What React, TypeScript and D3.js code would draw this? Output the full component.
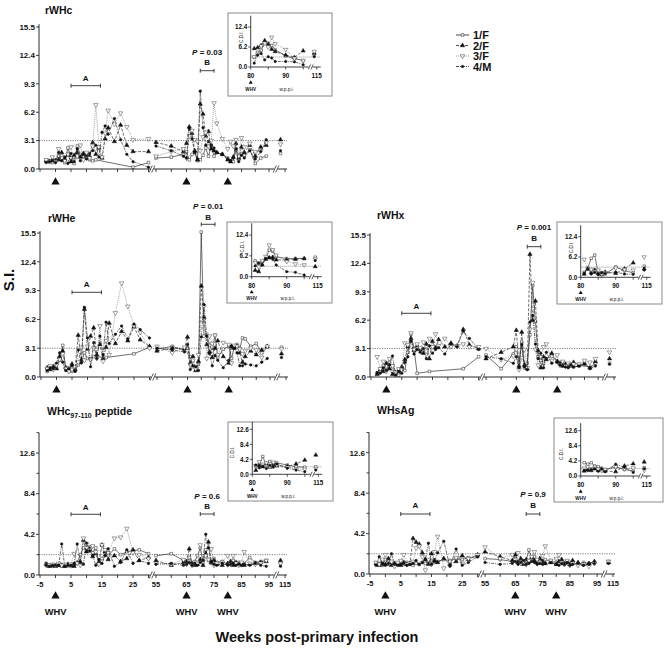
import { useEffect, useRef } from 'react';
import * as d3 from 'd3';

// sampling weeks (post-primary infection)
const WEEKS_EARLY = [-3, -2, -1, 0, 1, 2, 3, 4, 5, 6, 7, 8, 9, 10, 11, 12, 13, 14, 15, 16, 17, 19, 21, 23, 25, 27, 30];
const WEEKS_LATE = [55, 60, 64, 65, 66, 67, 68, 69, 70, 71, 72, 73, 74, 75, 76, 78, 80, 81, 82, 83, 84, 85, 86, 88, 90, 92, 94];
const WEEKS_END = [113.5];
const INSET_WEEKS = [81, 82, 83, 84, 85, 86, 87, 90, 92.5, 95];
const INSET_END = [114];
const WHV_WEEKS = [0, 65, 80];
const ANIMALS = ['1/F', '2/F', '3/F', '4/M'];

// S.I. values: early weeks / late weeks / last point after the break
const RWHC_1 = [0.8, 0.9, 0.7, 1.0, 1.4, 1.0, 0.7, 2.3, 1.2, 0.6, 2.5, 1.6, 1.4, 1.2, 1.0, 0.9, 1.0, null, null, null, null, null, null, null, 0.2, null, 0.7,
  1.2, 1.3, 1.6, 1.9, 1.0, 1.6, 1.8, 0.9, 1.0, 1.5, 2.3, 1.4, 2.6, 1.4, 1.8, 1.6, 1.2, 0.9, 0.8, 2.1, 1.0, 1.7, 1.5, 2.1, 0.6, 1.2, 1.4,
  1.7];
const RWHC_2 = [0.9, 0.8, 1.0, 0.9, 1.0, 1.8, 1.1, 1.5, 0.8, 1.5, 1.8, 1.3, 1.7, 1.5, 1.4, 2.9, 1.6, 2.3, 1.2, 3.3, 4.5, 3.0, 4.8, 2.6, 1.9, null, 1.9,
  2.9, 2.5, 1.9, 2.8, 4.6, 3.9, 2.0, 1.0, 7.1, 6.0, 3.6, 4.1, 2.2, 2.0, 1.8, 1.6, 1.0, 0.8, 1.3, 2.8, 1.2, 2.4, 1.8, 2.6, 1.4, 2.4, 2.6,
  3.2];
const RWHC_3 = [1.0, 0.8, 1.3, 0.8, 2.2, 1.2, 0.9, 1.6, 2.4, 1.0, 1.4, 2.6, 1.0, 1.8, 1.2, 2.5, 7.0, 2.4, 1.3, 3.9, 6.4, 4.9, 6.1, 4.6, 3.2, null, 3.3,
  1.4, 1.9, 2.2, 1.2, 3.6, 4.2, 3.2, 3.0, 2.0, 3.5, 4.0, 2.5, 3.1, 7.2, 5.0, 3.3, 2.2, 3.0, 2.5, 3.2, 1.4, 3.4, 2.4, 2.8, 1.9, 2.0, 2.9,
  2.7];
const RWHC_4 = [0.7, 0.8, 0.9, 0.7, 1.8, 0.9, 1.3, 0.6, 1.7, 0.8, 2.2, 0.9, 1.6, 1.1, 1.7, 2.0, 2.6, 1.3, 4.0, 4.7, 3.8, 5.5, 3.2, 1.6, 0.8, null, 0.2,
  2.5, 2.0, 1.4, 1.2, 4.4, 3.3, 1.8, 1.1, 8.5, 4.5, 2.6, 3.0, 2.6, 2.3, 1.8, 1.6, 1.1, 0.9, 1.2, 2.2, 0.8, 1.5, 1.2, 2.0, 1.1, 1.9, 3.2,
  2.0];

const RWHE_1 = [0.6, 0.9, 1.0, 1.0, 1.8, 3.4, 0.8, 1.0, 0.6, 0.7, 1.3, 1.6, 2.6, 2.0, 1.9, 2.2, null, null, null, 2.1, null, null, null, null, 2.5, null, 3.2,
  3.0, 3.3, 2.9, 3.1, 2.2, 1.1, 0.8, 1.4, 15.6, 4.4, 4.6, 3.4, 2.8, 4.5, 2.1, 3.0, 3.3, 2.0, 3.2, 3.5, 3.1, 4.2, 4.1, 3.3, 3.6, 2.6, 3.2,
  3.2];
const RWHE_2 = [1.0, 0.8, 1.1, 0.9, 2.2, 2.8, 1.0, 0.7, 1.4, 0.8, 4.5, 1.8, 7.3, 3.0, 4.4, 5.3, 2.4, 3.5, 2.0, 3.2, 5.8, 3.6, 4.9, 3.9, 5.4, 4.0, 3.3,
  2.8, 3.1, 3.0, 4.3, 1.5, 2.2, 0.7, 1.7, 9.8, 6.4, 3.5, 2.7, 2.1, 3.1, 3.9, 2.2, 1.5, 3.3, 3.1, 3.3, 2.6, 1.6, 2.2, 2.8, 2.4, 2.9, 3.3,
  2.5];
const RWHE_3 = [0.9, 1.2, 0.8, 1.3, 1.9, 2.5, 0.9, 0.6, 0.8, 1.1, 1.6, 3.2, 1.8, 3.3, 1.9, 3.1, 2.0, 5.5, 1.7, 3.9, 2.4, 6.9, 10.1, 7.6, 5.5, 4.8, 3.1,
  3.3, 2.6, 3.2, 2.8, 1.3, 1.8, 0.9, 2.4, 6.2, 7.6, 2.0, 4.4, 3.6, 4.5, 2.4, 3.7, 3.5, 1.5, 3.4, 3.3, 3.0, 2.5, 2.8, 3.1, 2.9, 2.1, 3.3,
  3.0];
const RWHE_4 = [0.7, 1.0, 0.9, 1.5, 2.6, 1.6, 0.7, 0.9, 1.2, 0.6, 2.9, 1.5, 7.5, 4.2, 1.1, 3.7, 2.0, 4.4, 2.4, 5.9, 3.6, 4.6, 5.5, 4.1, 5.7, 5.1, 4.2,
  3.1, 2.9, 2.7, 3.5, 0.8, 1.2, 1.1, 0.7, 4.3, 7.8, 4.4, 2.5, 1.2, 2.3, 1.8, 1.0, 1.8, 3.3, 3.1, 2.6, 1.2, 1.2, 1.4, 1.3, 1.2, 1.6, 2.0,
  2.1];

const RWHX_1 = [0.4, 0.6, 1.2, 0.8, 1.6, 0.9, 0.4, 0.2, 0.9, 0.7, 2.7, 4.7, 3.1, 0.4, null, null, null, 0.6, null, null, null, null, null, null, 0.9, null, 2.2,
  2.4, 0.9, 2.5, 3.3, 1.6, 3.8, 1.0, 1.5, 4.6, 10.0, 6.1, 2.2, 1.8, 1.5, 2.0, 2.3, 1.7, 1.4, 1.6, 1.3, 1.2, 1.4, 1.1, 1.2, 1.3, 1.0, 1.5,
  1.5];
const RWHX_2 = [0.3, 0.8, 0.6, 1.5, 0.9, 0.3, 0.5, 0.7, 1.1, 1.9, 3.3, 4.2, 2.9, 3.4, 3.0, 2.6, 3.6, 2.0, 3.9, 3.2, 4.1, 3.3, 3.7, 3.4, 5.2, 3.5, 3.1,
  2.0, 2.7, 3.3, 5.1, 1.2, 4.9, 1.3, 0.9, 13.4, 6.2, 8.3, 2.9, 1.0, 2.2, 1.9, 2.6, 1.7, 1.5, 1.2, 1.4, 1.3, 1.2, 1.6, 1.3, 1.5, 1.0, 1.7,
  2.0];
const RWHX_3 = [2.2, 0.9, 1.7, 0.6, 2.0, 1.2, 0.5, 0.9, 0.8, 3.7, 3.5, 4.8, 3.0, 3.6, 3.2, 3.8, 2.8, 4.2, 3.3, 4.7, 3.4, 4.2, 3.3, 3.4, 3.6, 3.3, 3.3,
  3.1, 1.9, 2.3, 3.0, 0.8, 2.1, 3.0, 1.0, 5.2, 10.3, 3.0, 1.3, 2.2, 3.3, 3.6, 1.8, 2.4, 1.3, 1.7, 1.2, 1.5, 1.3, 1.4, 1.4, 1.8, 1.6, 2.0,
  2.7];
const RWHX_4 = [0.5, 0.4, 1.0, 0.7, 1.3, 2.3, 0.2, 0.6, 0.4, 1.6, 2.2, 3.9, 2.5, 3.0, 2.7, 3.1, 2.0, 3.4, 2.6, 3.0, 3.2, 2.5, 3.6, 3.3, 5.0, 4.2, 3.0,
  2.2, 2.0, 1.5, 2.2, 1.0, 3.5, 1.1, 0.8, 6.0, 6.7, 3.6, 2.0, 2.6, 1.0, 2.7, 1.5, 1.6, 1.3, 1.2, 1.1, 1.0, 1.3, 1.1, 1.2, 1.4, 0.9, 1.2,
  1.4];

const PEP_1 = [1.2, 1.0, 0.9, 1.0, 1.1, 0.9, 1.0, 1.0, 0.9, 1.1, 1.3, 2.1, 2.8, 2.5, 2.9, 2.3, 2.8, 1.2, 1.7, 2.3, 2.0, 2.7, 2.1, 2.4, 2.5, 2.6, 2.2,
  2.0, 2.2, 1.5, 1.2, 1.8, 1.1, 1.4, 2.0, 2.8, 1.3, 2.6, 1.5, 1.2, 1.7, 1.3, 1.4, 1.1, 1.2, 1.5, 1.1, 1.3, 1.0, 1.2, 1.8, 1.3, 1.4, 1.5,
  1.2];
const PEP_2 = [1.1, 0.9, 1.0, 0.9, 1.0, 1.0, 0.9, 1.1, 1.0, 0.9, 1.2, 1.4, 3.6, 2.4, 2.7, 1.9, 2.2, 1.3, 3.1, 2.4, 1.6, 2.0, 1.4, 1.7, 2.6, 1.5, 1.8,
  1.5, 1.0, 1.3, 1.4, 2.7, 1.2, 1.0, 1.1, 1.6, 1.0, 2.2, 3.4, 1.3, 1.5, 1.1, 1.0, 1.2, 1.4, 1.0, 1.3, 1.1, 1.2, 1.0, 1.1, 1.2, 1.3, 1.4,
  1.5];
const PEP_3 = [1.0, 1.0, 1.1, 1.0, 1.2, 1.0, 1.1, 1.0, 1.1, 2.2, 1.2, 1.0, 3.8, 3.2, 2.6, 3.0, 2.4, 1.1, 3.1, 2.6, 2.3, 3.8, 3.9, 4.8, 2.3, 2.1, 1.7,
  1.2, 1.1, 1.6, 1.1, 1.4, 1.0, 1.3, 1.2, 3.1, 1.4, 2.0, 1.6, 2.7, 1.0, 1.2, 1.3, 2.0, 1.1, 2.0, 1.2, 1.0, 1.3, 2.4, 1.2, 1.1, 1.2, 1.5,
  1.2];
const PEP_4 = [1.0, 0.9, 1.0, 1.0, 1.0, 3.2, 0.9, 1.0, 1.0, 1.2, 3.2, 1.3, 1.1, 3.3, 2.5, 2.0, 1.0, 1.6, 1.2, 2.0, 2.7, 0.9, 1.3, 2.6, 1.2, 1.5, 1.2,
  1.1, 1.2, 1.0, 1.1, 1.3, 1.0, 1.2, 1.0, 1.3, 1.5, 4.2, 2.8, 1.4, 1.1, 1.0, 1.2, 1.0, 1.1, 1.2, 1.0, 1.1, 1.0, 1.1, 1.0, 1.2, 1.0, 0.9,
  0.9];

const SAG_1 = [1.0, 1.1, 0.9, 1.5, 1.0, 1.2, 0.9, 1.1, 1.3, 1.0, 1.2, 1.0, 0.9, 1.1, 1.0, 1.2, 1.1, 1.3, 1.4, 1.2, 1.3, 1.5, 1.4, 1.6, 1.5, 1.7, 1.8,
  1.6, 1.5, 1.3, 1.8, 1.2, 1.5, 1.1, 1.4, 2.5, 1.6, 1.8, 1.3, 1.2, 1.4, 1.5, 1.3, 1.2, 1.1, 1.4, 1.0, 1.3, 1.2, 1.1, 1.0, 1.2, 1.1, 1.2,
  1.3];
const SAG_2 = [1.1, 0.9, 1.2, 1.0, 1.6, 0.9, 1.1, 1.0, 0.9, 1.2, 1.0, 1.1, 3.7, 3.3, 3.1, 2.2, 1.5, 1.0, 2.1, 1.4, 1.2, 1.6, 1.0, 1.3, 1.9, 1.5, 2.0,
  2.3, 1.8, 1.4, 2.0, 1.2, 1.6, 1.0, 1.5, 1.3, 1.7, 1.4, 1.2, 1.6, 1.3, 1.1, 1.2, 1.0, 1.3, 1.5, 1.1, 1.2, 1.0, 1.4, 1.2, 1.0, 1.1, 1.3,
  1.2];
const SAG_3 = [1.2, 1.0, 1.5, 2.0, 1.1, 1.3, 0.8, 1.2, 1.4, 2.0, 1.0, 1.1, 1.3, 2.7, 2.9, 1.8, 0.4, 1.5, 1.0, 2.3, 3.9, 0.6, 1.3, 1.7, 1.1, 1.6, 2.0,
  2.8, 1.6, 2.0, 1.5, 2.2, 1.1, 1.3, 1.0, 1.4, 1.8, 2.3, 1.5, 1.2, 1.9, 2.9, 1.4, 1.6, 2.0, 1.2, 1.0, 1.4, 0.9, 1.1, 0.9, 1.0, 0.8, 1.1,
  1.3];
const SAG_4 = [0.9, 1.8, 1.0, 0.9, 1.1, 2.1, 1.0, 0.9, 1.0, 1.1, 0.9, 1.0, 1.1, 1.4, 1.0, 1.2, 1.5, 3.2, 1.0, 1.3, 2.2, 3.4, 0.8, 2.6, 0.9, 1.2, 1.8,
  1.2, 1.0, 1.1, 1.3, 1.0, 1.2, 1.4, 1.0, 1.1, 1.3, 1.2, 1.0, 1.1, 1.0, 1.1, 1.2, 1.0, 0.9, 1.1, 1.0, 1.2, 0.9, 1.0, 1.1, 0.9, 1.0, 1.1,
  1.1];

// C.D.I. values for the insets (weeks 81-95, then 114)
const RWHC_IN_1 = [3.0, 4.6, 5.2, 7.7, 7.4, 6.7, 5.4, 3.4, 2.6, 2.0, 3.7];
const RWHC_IN_2 = [5.7, 6.0, 6.7, 8.2, 7.0, 5.5, 4.8, 3.7, 3.0, 5.0, 4.3];
const RWHC_IN_3 = [3.2, 4.0, 6.5, 7.4, 6.2, 9.2, 7.2, 5.4, 2.7, 2.0, 4.8];
const RWHC_IN_4 = [1.2, 3.7, 4.2, 2.2, 3.2, 2.8, 1.7, 1.7, 1.6, 0.7, 3.2];
const RWHE_IN_1 = [4.7, 4.1, 4.6, 5.5, 7.9, 7.6, 5.9, 5.4, 5.4, 5.4, 5.8];
const RWHE_IN_2 = [1.9, 1.5, 3.5, 5.2, 5.6, 5.8, 5.0, 5.0, 5.2, 5.4, 3.0];
const RWHE_IN_3 = [4.2, 3.0, 4.8, 6.0, 9.4, 8.0, 6.4, 4.5, 3.8, 3.5, 5.2];
const RWHE_IN_4 = [3.2, 4.0, 3.6, 5.4, 5.8, 5.2, 3.5, 1.5, 1.3, 0.5, 4.8];
const RWHX_IN_1 = [1.5, 2.8, 5.8, 6.8, 1.2, 1.5, 1.0, 3.2, 2.0, 1.4, 3.4];
const RWHX_IN_2 = [1.0, 2.5, 1.4, 2.2, 1.2, 0.8, 1.6, 1.2, 2.6, 4.4, 2.6];
const RWHX_IN_3 = [5.5, 2.7, 2.4, 1.8, 2.2, 1.0, 1.4, 2.8, 2.4, 2.2, 6.2];
const RWHX_IN_4 = [1.2, 2.6, 1.0, 1.5, 0.8, 1.4, 1.2, 1.6, 1.0, 0.9, 2.2];
const PEP_IN_1 = [2.3, 2.8, 5.0, 2.5, 3.6, 2.8, 3.2, 2.6, 2.1, 2.0, 2.1];
const PEP_IN_2 = [1.1, 2.5, 2.1, 3.0, 2.0, 2.8, 2.4, 2.2, 2.9, 4.0, 5.4];
const PEP_IN_3 = [2.4, 3.5, 2.8, 3.2, 2.2, 3.4, 2.6, 2.0, 1.5, 1.4, 1.6];
const PEP_IN_4 = [2.6, 1.8, 2.3, 1.6, 2.5, 2.0, 2.9, 1.7, 1.2, 0.7, 1.2];
const SAG_IN_1 = [3.7, 3.3, 3.7, 2.8, 2.6, 2.2, 1.8, 2.5, 1.8, 1.4, 2.3];
const SAG_IN_2 = [1.4, 1.8, 1.5, 2.0, 1.6, 1.8, 1.4, 1.2, 2.8, 3.4, 3.9];
const SAG_IN_3 = [2.2, 2.6, 2.0, 2.4, 1.9, 1.5, 1.8, 2.6, 2.0, 2.2, 1.6];
const SAG_IN_4 = [1.6, 1.5, 1.8, 2.0, 1.3, 1.9, 1.2, 3.3, 2.4, 1.0, 2.0];

const TICKS_SI = [0, 3.1, 6.2, 9.3, 12.4, 15.5];
const TICKS_PEP = [0, 4.2, 8.4, 12.6];
const MINOR_PEP = [2.1, 6.3, 10.5, 14.7];
const INSET_TICKS_SI = [0, 6.2, 12.4];
const INSET_TICKS_PEP = [0, 4.2, 8.4, 12.6];

const FONT = "'Liberation Sans', Arial, Helvetica, sans-serif";

const STYLES = [
  { dash: null, stroke: '#222', symbol: d3.symbolSquare, size: 7, rot: 0, fill: '#fff', mstroke: '#222' },
  { dash: '3,1.5', stroke: '#222', symbol: d3.symbolTriangle, size: 8, rot: 0, fill: '#111', mstroke: '#111' },
  { dash: '1,1', stroke: '#777', symbol: d3.symbolTriangle, size: 9, rot: 180, fill: '#fff', mstroke: '#444' },
  { dash: '3,1,1,1', stroke: '#222', symbol: d3.symbolCircle, size: 5, rot: 0, fill: '#111', mstroke: '#111' },
];

const PANELS = [
  {
    title: 'rWHc', sub: null, rest: null, tx: 45, ty: 14,
    ax: 39, xw: 246, y0: 169, refVal: 15.5, refPx: 27, yMax: 15.8, ticks: TICKS_SI, minor: [], thresh: 3.1,
    arrowY: 182, bottom: false, pText: '0.03', pY: 55, bLabY: 65, bY: 70.7, aLabY: 81, aY: 85.7, bWeeks: [70, 75],
    series: [RWHC_1, RWHC_2, RWHC_3, RWHC_4],
    inset: { bx: 228, by: 13, bw: 104, bh: 83, ax: 250.7, y0: 67, refVal: 12.4, refPx: 27, yMax: 15.9, ticks: INSET_TICKS_SI, thresh: 3.1,
      cdi: [-8, -30], series: [RWHC_IN_1, RWHC_IN_2, RWHC_IN_3, RWHC_IN_4] },
  },
  {
    title: 'rWHe', sub: null, rest: null, tx: 48, ty: 222,
    ax: 40, xw: 246, y0: 377, refVal: 15.5, refPx: 233, yMax: 15.7, ticks: TICKS_SI, minor: [], thresh: 3.1,
    arrowY: 390, bottom: false, pText: '0.01', pY: 209, bLabY: 220, bY: 224.3, aLabY: 287, aY: 292.3, bWeeks: [70, 75],
    series: [RWHE_1, RWHE_2, RWHE_3, RWHE_4],
    inset: { bx: 227, by: 222, bw: 105, bh: 81, ax: 251.7, y0: 276.7, refVal: 12.4, refPx: 235, yMax: 15.9, ticks: INSET_TICKS_SI, thresh: 3.1,
      cdi: [-8, -30], series: [RWHE_IN_1, RWHE_IN_2, RWHE_IN_3, RWHE_IN_4] },
  },
  {
    title: 'rWHx', sub: null, rest: null, tx: 377, ty: 219,
    ax: 370, xw: 244, y0: 377, refVal: 15.5, refPx: 235, yMax: 15.7, ticks: TICKS_SI, minor: [], thresh: 3.1,
    arrowY: 390, bottom: false, pText: '0.001', pY: 230, bLabY: 241, bY: 246.7, aLabY: 309, aY: 313.3, bWeeks: [69, 74],
    series: [RWHX_1, RWHX_2, RWHX_3, RWHX_4],
    inset: { bx: 557, by: 222, bw: 105, bh: 82, ax: 580.7, y0: 277.3, refVal: 12.4, refPx: 236.7, yMax: 15.9, ticks: INSET_TICKS_SI, thresh: 3.1,
      cdi: [-8, -30], series: [RWHX_IN_1, RWHX_IN_2, RWHX_IN_3, RWHX_IN_4] },
  },
  {
    title: 'WHc', sub: '97-110', rest: ' peptide', tx: 47, ty: 415,
    ax: 39, xw: 246, y0: 575, refVal: 12.6, refPx: 453, yMax: 14.7, ticks: TICKS_PEP, minor: MINOR_PEP, thresh: 2.1,
    arrowY: 596, bottom: true, pText: '0.6', pY: 499, bLabY: 509, bY: 514, aLabY: 509.5, aY: 514.3, bWeeks: [70, 75],
    series: [PEP_1, PEP_2, PEP_3, PEP_4],
    inset: { bx: 228, by: 422, bw: 105, bh: 79, ax: 252.3, y0: 474.3, refVal: 12.6, refPx: 429.3, yMax: 14.7, ticks: INSET_TICKS_PEP, thresh: 2.1,
      cdi: [-18, -22], series: [PEP_IN_1, PEP_IN_2, PEP_IN_3, PEP_IN_4] },
  },
  {
    title: 'WHsAg', sub: null, rest: null, tx: 377, ty: 414,
    ax: 369, xw: 244, y0: 574, refVal: 12.6, refPx: 452.7, yMax: 14.7, ticks: TICKS_PEP, minor: MINOR_PEP, thresh: 2.1,
    arrowY: 596, bottom: true, pText: '0.9', pY: 497, bLabY: 508, bY: 514, aLabY: 508, aY: 514, bWeeks: [69, 74],
    series: [SAG_1, SAG_2, SAG_3, SAG_4],
    inset: { bx: 554, by: 418, bw: 109, bh: 84, ax: 580.7, y0: 476, refVal: 12.6, refPx: 430.7, yMax: 14.7, ticks: INSET_TICKS_PEP, thresh: 2.1,
      cdi: [-18, -22], series: [SAG_IN_1, SAG_IN_2, SAG_IN_3, SAG_IN_4] },
  },
];

function label(g: any, x: number, y: number, s: string, size: number, anchor = 'middle') {
  return g.append('text')
    .attr('x', x)
    .attr('y', y)
    .attr('text-anchor', anchor)
    .attr('font-family', FONT)
    .attr('font-weight', 'bold')
    .attr('font-size', size)
    .attr('fill', '#111')
    .text(s);
}

function hline(g: any, x1: number, x2: number, y: number, w = 0.8) {
  g.append('line').attr('x1', x1).attr('x2', x2).attr('y1', y).attr('y2', y)
    .attr('stroke', '#111').attr('stroke-width', w);
}

function vline(g: any, x: number, y1: number, y2: number, w = 0.8) {
  g.append('line').attr('x1', x).attr('x2', x).attr('y1', y1).attr('y2', y2)
    .attr('stroke', '#111').attr('stroke-width', w);
}

function breakMark(g: any, cx: number, y: number, h: number) {
  [-1.3, 1.3].forEach(d => {
    g.append('line')
      .attr('x1', cx + d - h * 0.45).attr('y1', y + h)
      .attr('x2', cx + d + h * 0.45).attr('y2', y - h)
      .attr('stroke', '#111').attr('stroke-width', 0.7);
  });
}

function drawSeries(g: any, values: (number | null)[], segs: number[][], x: (w: number) => number, y: any, st: any, k: number) {
  let offset = 0;
  segs.forEach(ws => {
    const pts = ws.map((w, i) => ({ w, v: values[offset + i] })).filter(d => d.v != null) as { w: number; v: number }[];
    offset += ws.length;
    if (pts.length > 1) {
      const line = d3.line<{ w: number; v: number }>().x(d => x(d.w)).y(d => y(d.v));
      g.append('path')
        .attr('d', line(pts))
        .attr('fill', 'none')
        .attr('stroke', st.stroke)
        .attr('stroke-width', 0.65 * k)
        .attr('stroke-dasharray', st.dash);
    }
    pts.forEach(d => {
      g.append('path')
        .attr('d', d3.symbol(st.symbol, st.size * k * k)())
        .attr('transform', `translate(${x(d.w)},${y(d.v)}) rotate(${st.rot})`)
        .attr('fill', st.fill)
        .attr('stroke', st.mstroke)
        .attr('stroke-width', 0.5);
    });
  });
}

function drawInset(svg: any, ins: any) {
  const g = svg.append('g');
  g.append('rect')
    .attr('x', ins.bx).attr('y', ins.by).attr('width', ins.bw).attr('height', ins.bh)
    .attr('fill', '#fff').attr('stroke', '#8a8a8a').attr('stroke-width', 1);

  const a = ins.ax;
  const x2 = d3.scaleLinear().domain([80, 96]).range([a, a + 56]);
  const x3 = d3.scaleLinear().domain([113, 117]).range([a + 61, a + 71]);
  const x = (w: number) => (w < 100 ? x2(w) : x3(w));
  const y = d3.scaleLinear().domain([0, ins.refVal]).range([ins.y0, ins.refPx]);

  // threshold
  g.append('line')
    .attr('x1', a).attr('x2', a + 70).attr('y1', y(ins.thresh)).attr('y2', y(ins.thresh))
    .attr('stroke', '#555').attr('stroke-width', 0.6).attr('stroke-dasharray', '1,1');

  ins.series.forEach((vals: number[], i: number) => {
    drawSeries(g, vals, [INSET_WEEKS, INSET_END], x, y, STYLES[i], 0.95);
  });

  // axes
  vline(g, a, y(0), y(ins.yMax), 0.8);
  ins.ticks.forEach((t: number) => {
    hline(g, a - 2.5, a, y(t), 0.7);
    label(g, a - 3.5, y(t) + 2.2, t.toFixed(1), 6.3, 'end');
  });
  hline(g, a, a + 58, y(0), 0.8);
  hline(g, a + 62, a + 70, y(0), 0.8);
  breakMark(g, a + 60, y(0), 2.5);
  [80, 85, 90, 95, 115].forEach(t => vline(g, x(t), y(0), y(0) + 2.5, 0.7));
  [80, 90, 115].forEach(t => label(g, x(t), y(0) + 11, String(t), 6.3));

  g.append('path')
    .attr('d', d3.symbol(d3.symbolTriangle, 7)())
    .attr('transform', `translate(${a},${ins.y0 + 15.5})`)
    .attr('fill', '#111');
  label(g, a, ins.y0 + 23.5, 'WHV', 4.6);
  label(g, a + 36, ins.y0 + 23.5, 'w.p.p.i.', 4.6).attr('font-weight', 'normal');
  label(g, 0, 0, 'C.D.I.', 4.6)
    .attr('font-weight', 'normal')
    .attr('transform', `translate(${a + ins.cdi[0]},${ins.y0 + ins.cdi[1]}) rotate(-90)`);
}

function drawPanel(svg: any, p: any) {
  const g = svg.append('g');
  const k = p.xw / 246;
  const o = p.ax;
  const s1 = d3.scaleLinear().domain([-5, 25]).range([o + 1 * k, o + 94 * k]);
  const s2 = d3.scaleLinear().domain([55, 65, 95]).range([o + 117 * k, o + 147.5 * k, o + 230 * k]);
  const s3 = d3.scaleLinear().domain([113, 117]).range([o + 240 * k, o + 252 * k]);
  const x = (w: number) => (w < 40 ? s1(w) : w < 100 ? s2(w) : s3(w));
  const y = d3.scaleLinear().domain([0, p.refVal]).range([p.y0, p.refPx]);
  const brk1 = o + 113 * k;
  const brk2 = o + 237 * k;
  const xEnd = o + 248 * k;

  // title
  const t = label(g, p.tx, p.ty, p.title, 10.5, 'start');
  if (p.sub) {
    t.append('tspan').attr('font-size', 7).attr('dy', 2.5).text(p.sub);
    t.append('tspan').attr('dy', -2.5).text(p.rest);
  }

  // threshold
  g.append('line')
    .attr('x1', o).attr('x2', xEnd).attr('y1', y(p.thresh)).attr('y2', y(p.thresh))
    .attr('stroke', '#444').attr('stroke-width', 0.7).attr('stroke-dasharray', '1.2,1.2');

  p.series.forEach((vals: number[], i: number) => {
    drawSeries(g, vals, [WEEKS_EARLY, WEEKS_LATE, WEEKS_END], x, y, STYLES[i], 1);
  });

  // y axis
  vline(g, o, y(0), y(p.yMax), 0.9);
  p.ticks.forEach((v: number) => {
    hline(g, o - 3, o, y(v), 0.8);
    label(g, o - 4, y(v) + 2.8, v.toFixed(1), 8, 'end');
  });
  p.minor.forEach((v: number) => hline(g, o - 2.5, o, y(v), 0.8));

  // x axis with breaks
  hline(g, o, brk1 - 1.8, y(0), 0.9);
  hline(g, brk1 + 1.8, brk2 - 1.8, y(0), 0.9);
  hline(g, brk2 + 1.8, xEnd, y(0), 0.9);
  breakMark(g, brk1, y(0), 3.5);
  breakMark(g, brk2, y(0), 3.5);
  const ticks = [...d3.range(-5, 31, 5), ...d3.range(55, 96, 5), 115];
  ticks.forEach(w => vline(g, x(w), y(0), y(0) + 3, 0.8));
  if (p.bottom) {
    [-5, 5, 15, 25, 55, 65, 75, 85, 95, 115].forEach(w => label(g, x(w), y(0) + 11.5, String(w), 7.5));
  }

  // WHV inoculations
  WHV_WEEKS.forEach(w => {
    g.append('path')
      .attr('d', d3.symbol(d3.symbolTriangle, 30)())
      .attr('transform', `translate(${x(w)},${p.arrowY})`)
      .attr('fill', '#111');
    if (p.bottom) label(g, x(w), p.arrowY + 18.5, 'WHV', 9.3);
  });

  // intervals A and B
  const bracket = (w1: number, w2: number, yy: number) => {
    hline(g, x(w1), x(w2), yy, 0.8);
    vline(g, x(w1), yy - 2, yy + 2, 0.8);
    vline(g, x(w2), yy - 2, yy + 2, 0.8);
  };
  bracket(5, 14.5, p.aY);
  label(g, (x(5) + x(14.5)) / 2, p.aLabY, 'A', 8);
  bracket(p.bWeeks[0], p.bWeeks[1], p.bY);
  const bc = (x(p.bWeeks[0]) + x(p.bWeeks[1])) / 2;
  label(g, bc, p.bLabY, 'B', 8);
  const pt = label(g, bc, p.pY, '', 8);
  pt.append('tspan').attr('font-style', 'italic').text('P');
  pt.append('tspan').text(` = ${p.pText}`);

  drawInset(svg, p.inset);
}

function drawLegend(svg: any) {
  const g = svg.append('g');
  ANIMALS.forEach((name, i) => {
    const yy = 35 + i * 10.5;
    const st = STYLES[i];
    g.append('line')
      .attr('x1', 456).attr('x2', 469).attr('y1', yy).attr('y2', yy)
      .attr('stroke', st.stroke).attr('stroke-width', 0.8).attr('stroke-dasharray', st.dash);
    g.append('path')
      .attr('d', d3.symbol(st.symbol, st.size)())
      .attr('transform', `translate(462.5,${yy}) rotate(${st.rot})`)
      .attr('fill', st.fill).attr('stroke', st.mstroke).attr('stroke-width', 0.55);
    label(g, 473, yy + 4, name, 11, 'start');
  });
}

export default function App() {
  const svgRef = useRef<SVGSVGElement>(null);

  useEffect(() => {
    if (!svgRef.current) return;
    const svg = d3.select(svgRef.current);
    svg.selectAll('*').remove();

    PANELS.forEach(p => drawPanel(svg, p));
    drawLegend(svg);

    label(svg, 0, 0, 'S.I.', 15)
      .attr('transform', 'translate(14,280) rotate(-90)');
    label(svg, 317, 642, 'Weeks post-primary infection', 14.5);
  }, []);

  return (
    <svg
      ref={svgRef}
      width={664}
      height={650}
      style={{ position: 'absolute', left: 0, top: 0, background: '#fff', display: 'block' }}
    />
  );
}
